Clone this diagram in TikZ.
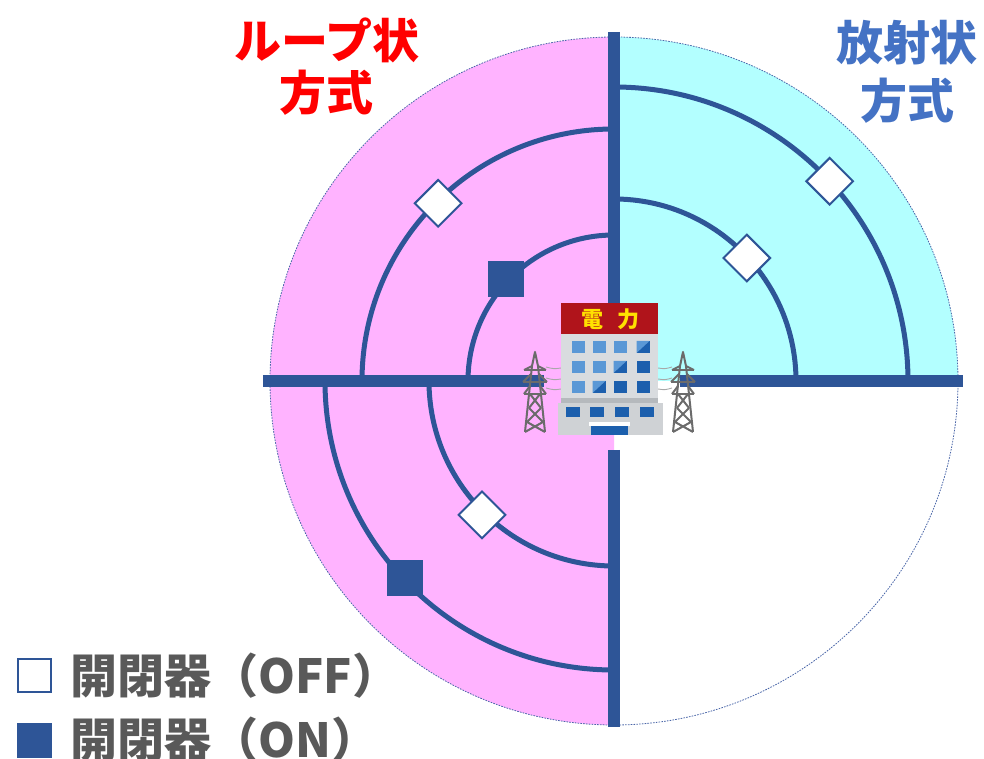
\documentclass[tikz,border=0pt]{standalone}
\usepackage{fontspec}
\newfontfamily\jp{Noto Sans CJK JP}
\definecolor{lineblue}{HTML}{2E5597}
\definecolor{looppink}{HTML}{FFB3FF}
\definecolor{radcyan}{HTML}{B3FFFF}
\definecolor{dotblue}{HTML}{4A66A8}
\definecolor{titleblue}{HTML}{4472C4}
\definecolor{legendgray}{HTML}{595959}
\definecolor{roofred}{HTML}{B0141B}
\definecolor{signyellow}{HTML}{FFE100}
\definecolor{wallgray}{HTML}{D9DCDF}
\definecolor{bandgray}{HTML}{B5B9BD}
\definecolor{basegray}{HTML}{CFD2D5}
\definecolor{winlight}{HTML}{5A98D6}
\definecolor{windark}{HTML}{1C5FAD}
\definecolor{towergray}{HTML}{6B6B6B}
\definecolor{wiregray}{HTML}{A8A8A8}
\begin{document}
\begin{tikzpicture}[x=1pt,y=1pt,
  feeder/.style={draw=lineblue, line width=12pt},
  branch/.style={draw=lineblue, line width=5pt},
  switchoff/.style={draw=lineblue, fill=white, line width=2pt, minimum size=33pt,
    inner sep=0pt, rotate=45},
  switchon/.style={fill=lineblue, minimum size=36pt, inner sep=0pt},
  keyoff/.style={draw=lineblue, fill=white, line width=2pt, minimum size=33pt, inner sep=0pt},
  keyon/.style={fill=lineblue, minimum size=35pt, inner sep=0pt},
  title/.style={font=\jp\bfseries\fontsize{47}{52}\selectfont, align=center},
  legendtext/.style={font=\jp\bfseries\fontsize{47}{52}\selectfont, text=legendgray, anchor=west},
  win/.style={fill=winlight},
  windk/.style={fill=windark},
  tower/.style={draw=towergray, line width=2pt, line join=round},
  wire/.style={draw=wiregray, line width=0.9pt},
  pylon/.pic={
    \draw[tower] (-10,0) -- (-3,66) -- (0,80) -- (3,66) -- (10,0);
    \draw[tower] (-11,62) -- (11,62) (-12,50) -- (12,50) (-11,38) -- (11,38);
    \draw[tower] (-3,66) -- (-11,62) (3,66) -- (11,62)
                 (-4,58) -- (-12,50) (4,58) -- (12,50)
                 (-5,46) -- (-11,38) (5,46) -- (11,38);
    \draw[tower] (-5,38) -- (6,24) (5,38) -- (-6,24) (-6,24) -- (8,10)
                 (6,24) -- (-8,10) (-8,10) -- (10,0) (8,10) -- (-10,0);
  }]

% page frame
\useasboundingbox (-614,-378) rectangle (370,381);

% service areas
\fill[looppink] (0,344) arc[start angle=90, end angle=270, radius=344] -- cycle;
\fill[radcyan] (0,0) -- (344,0) arc[start angle=0, end angle=90, radius=344] -- cycle;
\draw[dotblue, line width=0.8pt, dash pattern=on 1.6pt off 1.2pt] (0,0) circle[radius=344];

% feeder ends
\coordinate (N) at (0,349);
\coordinate (S) at (0,-346);
\coordinate (W) at (-351,0);
\coordinate (E) at (349,0);
\coordinate (Nin) at (0,78);
\coordinate (Sin) at (0,-69);
\coordinate (Win) at (-70,0);
\coordinate (Ein) at (66,0);

% branch lines
\draw[branch] (0,294) arc[start angle=90, end angle=0, radius=294];
\draw[branch] (0,182) arc[start angle=90, end angle=0, radius=182];
\draw[branch] (0,252) arc[start angle=90, end angle=180, radius=252];
\draw[branch] (0,146) arc[start angle=90, end angle=180, radius=146];
\draw[branch] (0,-289) arc[start angle=270, end angle=180, radius=289];
\draw[branch] (0,-185) arc[start angle=270, end angle=180, radius=185];

% main feeders
\draw[feeder] (N) -- (Nin);
\draw[feeder] (Sin) -- (S);
\draw[feeder] (W) -- (Win);
\draw[feeder] (Ein) -- (E);

% switches
\node[switchoff] (ro) at (42.8:294) {};
\node[switchoff] (ri) at (42.8:181) {};
\node[switchoff] (lo) at (134.7:250) {};
\node[switchon]  (li) at (136.6:148) {};
\node[switchoff] (bi) at (225.4:188) {};
\node[switchon]  (bo) at (223.4:287) {};

% power station
\node[inner sep=0pt, minimum width=120pt, minimum height=132pt] (plant) at (-4,-2) {};
\pic at (-79,-51) {pylon};
\pic at (69,-51) {pylon};
\draw[wire] (-68,14) .. controls (-60,12) .. (-53,13)
            (-68,3) .. controls (-60,1) .. (-53,2)
            (-68,-7) .. controls (-60,-9) .. (-53,-8);
\draw[wire] (44,13) .. controls (51,12) .. (58,14)
            (44,2) .. controls (51,1) .. (58,3)
            (44,-8) .. controls (51,-9) .. (58,-7);
\fill[basegray] (-56,-22) rectangle (49,-54);
\fill[wallgray] (-53,47) rectangle (44,-17);
\fill[bandgray] (-53,-17) rectangle (44,-22);
\fill[roofred] (-53,78) rectangle (44,47);
\node[font=\jp\bfseries\fontsize{22}{22}\selectfont, text=signyellow] (den) at (-22,62) {電};
\node[font=\jp\bfseries\fontsize{22}{22}\selectfont, text=signyellow] (ryoku) at (14,62) {力};
% upper windows
\foreach \cx/\cy/\k in {-36/34/0, -15/34/0, 6/34/0, 29/34/2,
                        -36/14/0, -15/14/0, 6/14/2, 29/14/1,
                        -36/-6/0, -15/-6/2, 6/-6/1, 29/-6/1} {
  \ifnum\k=0
    \fill[win] (\cx-6.5,\cy-6) rectangle (\cx+6.5,\cy+6);
  \else
    \fill[windk] (\cx-6.5,\cy-6) rectangle (\cx+6.5,\cy+6);
    \ifnum\k=2
      \fill[win] (\cx-6.5,\cy-6) -- (\cx-6.5,\cy+6) -- (\cx+6.5,\cy+6) -- cycle;
    \fi
  \fi
}
% lower windows and entrance
\foreach \cx in {-41,-17,8,33}
  \fill[windk] (\cx-7,-36) rectangle (\cx+7,-26);
\fill[white] (-25,-41) rectangle (16,-45);
\fill[windk] (-23,-45) rectangle (14,-54);

% titles
\node[title, text=red] (loopname) at (-287,314) {ループ状\\方式};
\node[title, text=titleblue, font=\jp\bfseries\fontsize{47}{58}\selectfont] (radname) at (293,309) {放射状\\方式};

% legend
\node[keyoff] (keyoffbox) at (-579.5,-294.5) {};
\node[keyon] (keyonbox) at (-579.5,-359.5) {};
\node[legendtext] (keyofftext) at (-547,-295) {開閉器（OFF）};
\node[legendtext] (keyontext) at (-547,-359) {開閉器（ON）};
\end{tikzpicture}
\end{document}
